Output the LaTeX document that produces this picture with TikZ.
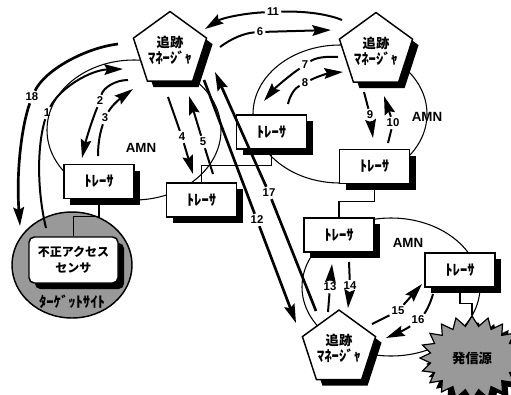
\documentclass[tikz,border=0pt]{standalone}
\usepackage{fontspec}
\setmainfont{Liberation Sans}
\newfontfamily\jp{Noto Sans CJK JP}
\usetikzlibrary{shapes.geometric,shapes.symbols,shadows,arrows.meta}

\begin{document}
\begin{tikzpicture}[x=0.75pt,y=0.75pt,yscale=-1,xscale=1,
  shd/.style={drop shadow={fill=black,opacity=1,shadow xshift=4.5pt,shadow yshift=-4.5pt}},
  mgr/.style={regular polygon,regular polygon sides=5,draw,line width=1.1pt,fill=white,minimum size=57pt,inner sep=0pt,align=center,shd,font=\jp\bfseries},
  trc/.style={draw,line width=0.9pt,fill=white,minimum width=52.5pt,minimum height=25.5pt,inner sep=0pt,shd,font=\jp\bfseries\fontsize{11}{11}\selectfont},
  amn/.style={line width=0.8pt},
  con/.style={line width=0.8pt},
  ln/.style={line width=1.5pt},
  arr/.style={line width=1.5pt,-{Stealth[length=14pt,width=8pt,inset=2pt]}},
  num/.style={font=\bfseries\fontsize{8.5}{9}\selectfont,inner sep=1.5pt},
  lbl/.style={font=\bfseries\fontsize{10}{10}\selectfont}]
\useasboundingbox (0,0) rectangle (511,394);

% AMN rings
\draw[amn] (134,130) ellipse [x radius=87, y radius=70];
\draw[amn] (340,114) ellipse [x radius=87, y radius=69];
\draw[amn] (391,287) ellipse [x radius=89, y radius=69];

% target site
\node[ellipse,draw,line width=1.1pt,fill=black!40,minimum width=90pt,minimum height=79.5pt] (site) at (72,265) {};

% tracers
\node[trc] (trA) at (99,181.5) {ﾄﾚｰｻ};
\node[trc] (trB) at (201.5,200) {ﾄﾚｰｻ};
\node[trc] (trC) at (271.5,132) {ﾄﾚｰｻ};
\node[trc] (trD) at (374.5,166.5) {ﾄﾚｰｻ};
\node[trc] (trE) at (339,235) {ﾄﾚｰｻ};
\node[trc] (trF) at (460,270) {ﾄﾚｰｻ};

% sensor and source
\node[draw,line width=1.1pt,fill=white,rounded corners=4pt,minimum width=66.75pt,minimum height=34.5pt,align=center,shd,font=\jp\bfseries\fontsize{9}{12.5}\selectfont] (sens) at (73.5,260) {不正アクセス\\センサ};
\node[font=\jp\bfseries\fontsize{11}{11}\selectfont] (tgt) at (72,302) {ﾀｰｹﾞｯﾄｻｲﾄ};
\node[starburst,starburst points=20,starburst point height=7.5pt,random starburst=0,draw,line width=0.9pt,fill=black!40,minimum width=78pt,minimum height=63pt,inner sep=0pt,shd,font=\jp\bfseries\fontsize{10}{10}\selectfont] (src) at (472,358) {発信源};

% wiring between tracers
\draw[con] (trA.south) -- ++(0,17) -| (sens.north);
\draw[con] (trB.north) -- ++(0,-17) -| (trC.south);
\draw[con] (trD.south) -- ++(0,17) -| (trE.north);
\draw[con] (trF.south) -- ++(0,16) -| (src.north);

% tracking managers
\node[mgr] (mgrA) at (170,50) {{\fontsize{10}{12}\selectfont 追跡}\\{\fontsize{11}{12}\selectfont ﾏﾈｰｼﾞｬ}};
\node[mgr] (mgrB) at (376,51) {{\fontsize{10}{12}\selectfont 追跡}\\{\fontsize{11}{12}\selectfont ﾏﾈｰｼﾞｬ}};
\node[mgr] (mgrC) at (339,348.5) {{\fontsize{10}{12}\selectfont 追跡}\\{\fontsize{11}{12}\selectfont ﾏﾈｰｼﾞｬ}};

\node[lbl] (amnA) at (141,148) {AMN};
\node[lbl] (amnB) at (427,117) {AMN};
\node[lbl] (amnC) at (408,243) {AMN};

% arrow ends
\coordinate (s1) at (46,228);   \coordinate (e1) at (123,69);
\coordinate (s2) at (128,80);   \coordinate (e2) at (82,158);
\coordinate (s3) at (98,156);   \coordinate (e3) at (133,89);
\coordinate (s4) at (168,97);   \coordinate (e4) at (193,174);
\coordinate (s5) at (213,174);  \coordinate (e5) at (189,96);
\coordinate (s6) at (220,47);   \coordinate (e6) at (331,30);
\coordinate (s7) at (338,57);   \coordinate (e7) at (264,101);
\coordinate (s8) at (288,104);  \coordinate (e8) at (343,72);
\coordinate (s9) at (364,92);   \coordinate (e9) at (373,138);
\coordinate (s10) at (388,143); \coordinate (e10) at (384,96);
\coordinate (s11) at (342,20);  \coordinate (e11) at (205,29);
\coordinate (s12) at (204,80);  \coordinate (e12) at (296,323);
\coordinate (s13) at (328,312); \coordinate (e13) at (332,264);
\coordinate (s14) at (349,262); \coordinate (e14) at (348,308);
\coordinate (s15) at (372,324); \coordinate (e15) at (422,284);
\coordinate (s16) at (433,294); \coordinate (e16) at (386,338);
\coordinate (s17) at (316,311); \coordinate (e17) at (215,72);
\coordinate (s18) at (118,44);  \coordinate (e18) at (20,226);

% step numbers
\node[num] (n1) at (47,113) {1};
\node[num] (n2) at (100,101) {2};
\node[num] (n3) at (105,118) {3};
\node[num] (n4) at (182,137) {4};
\node[num] (n5) at (203,142) {5};
\node[num] (n6) at (260,32) {6};
\node[num] (n7) at (305,65) {7};
\node[num] (n8) at (305,83) {8};
\node[num] (n9) at (370,115) {9};
\node[num] (n10) at (393,123) {10};
\node[num] (n11) at (273,12) {11};
\node[num] (n12) at (257,220) {12};
\node[num] (n13) at (330,287) {13};
\node[num] (n14) at (350,286) {14};
\node[num] (n15) at (398,311) {15};
\node[num] (n16) at (418,320) {16};
\node[num] (n17) at (269,193) {17};
\node[num] (n18) at (32,97) {18};

% arrows
\draw[ln] (s1) .. controls (38,195) and (36,150) .. (n1);
\draw[arr] (n1) .. controls (60,88) and (90,70) .. (e1);
\draw[ln] (s2) .. controls (115,80) and (103,88) .. (n2);
\draw[arr] (n2) .. controls (92,120) and (86,140) .. (e2);
\draw[ln] (s3) .. controls (98,140) and (101,130) .. (n3);
\draw[arr] (n3) .. controls (112,105) and (122,97) .. (e3);
\draw[ln] (s4) -- (n4);
\draw[arr] (n4) -- (e4);
\draw[ln] (s5) -- (n5);
\draw[arr] (n5) -- (e5);
\draw[ln] (s6) .. controls (232,38) and (245,33) .. (n6);
\draw[arr] (n6) -- (e6);
\draw[ln] (s7) .. controls (325,56) and (315,58) .. (n7);
\draw[arr] (n7) .. controls (290,75) and (275,88) .. (e7);
\draw[ln] (s8) .. controls (290,95) and (295,88) .. (n8);
\draw[arr] (n8) .. controls (318,76) and (330,73) .. (e8);
\draw[ln] (s9) -- (n9);
\draw[arr] (n9) -- (e9);
\draw[ln] (s10) -- (n10);
\draw[arr] (n10) -- (e10);
\draw[ln] (s11) .. controls (325,13) and (300,11) .. (n11);
\draw[arr] (n11) .. controls (245,13) and (222,18) .. (e11);
\draw[ln,line width=2pt] (s12) -- (n12);
\draw[arr,line width=2pt] (n12) -- (e12);
\draw[ln] (s13) -- (n13);
\draw[arr] (n13) -- (e13);
\draw[ln] (s14) -- (n14);
\draw[arr] (n14) -- (e14);
\draw[ln] (s15) -- (n15);
\draw[arr] (n15) -- (e15);
\draw[ln] (s16) .. controls (430,305) and (425,313) .. (n16);
\draw[arr] (n16) .. controls (408,328) and (398,333) .. (e16);
\draw[ln,line width=2pt] (s17) -- (n17);
\draw[arr,line width=2pt] (n17) -- (e17);
\draw[ln,line width=2pt] (s18) .. controls (85,48) and (45,70) .. (n18);
\draw[arr,line width=2pt] (n18) .. controls (22,125) and (16,170) .. (e18);
\end{tikzpicture}
\end{document}
